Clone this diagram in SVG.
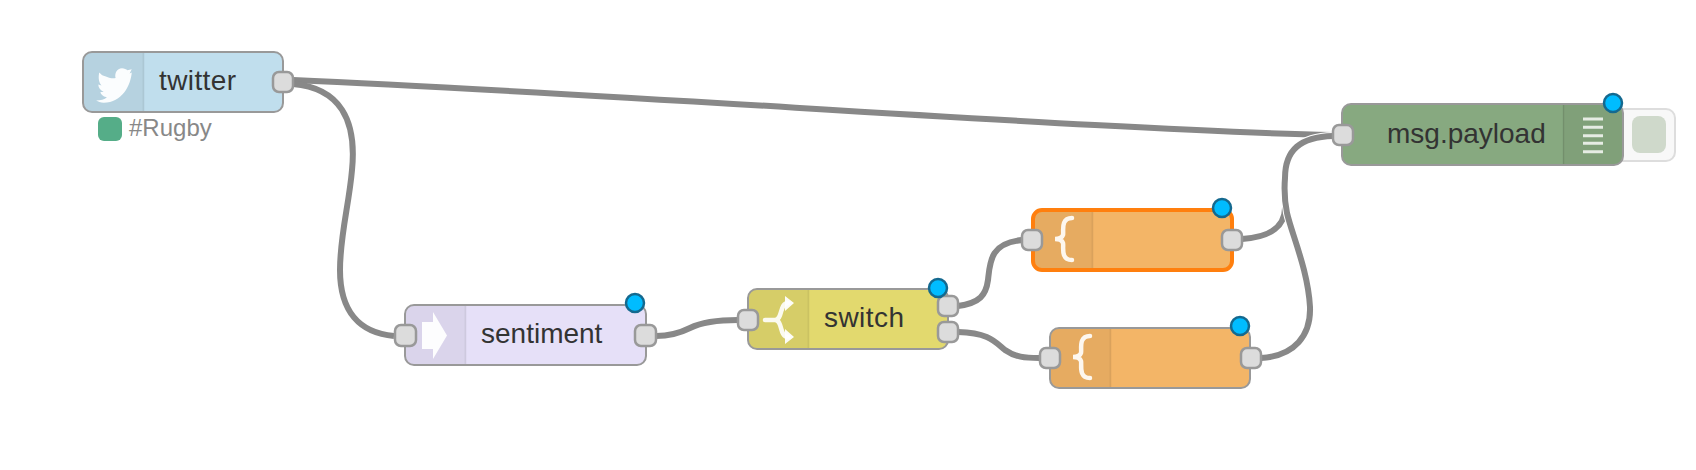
<svg xmlns="http://www.w3.org/2000/svg" width="1696" height="470" viewBox="0 0 1696 470">
<style>
.n{stroke:#999;stroke-width:2}
.ic{fill:#000;fill-opacity:.05}
.sep{stroke:#000;stroke-opacity:.1;stroke-width:1.500;fill:none}
.p{fill:#dcdcdc;stroke:#999;stroke-width:2.500}
.t{font-family:"Liberation Sans",Arial,sans-serif;font-size:28px;fill:#333}
.w{fill:none;stroke:#888;stroke-width:6}
.c{fill:none;stroke:#fff;stroke-width:8}
.d{fill:#00bcff;stroke:#14698f;stroke-width:2.500}
.g{fill:#fff;fill-opacity:.95}
.b{fill:none;stroke:#fff;stroke-opacity:.9;stroke-width:4.500;stroke-linecap:round}
</style>
<g id="connectors">
<path class="w" d="M293 80C640 95 1100 130 1333 135"/>
<path class="w" d="M293 84C340 88 357 120 352 170C349 205 340 235 340 270C340 312 360 333 394 336"/>
<path class="w" d="M656 336C670 336 680 333 690 328C700 323 715 320 738 320"/>
<path class="w" d="M958 306C980 303 986 295 988 280C990 262 990 243 1022 240"/>
<path class="w" d="M958 332C990 333 995 342 1005 350C1015 357 1025 358 1039 358"/>
<path class="w" d="M1242 239C1272 237 1285 225 1285 208C1285 195 1285 185 1285 178C1285 150 1300 137 1333 136"/>
<path class="c" d="M1261 358C1295 356 1311 335 1310 307C1308 270 1292 235 1287 213C1285 203 1284 190 1285 178C1285 150 1300 137 1333 136"/>
<path class="w" d="M1261 358C1295 356 1311 335 1310 307C1308 270 1292 235 1287 213C1285 203 1284 190 1285 178C1285 150 1300 137 1333 136"/>
</g>
<g id="twitter">
<rect class="n" x="83" y="52" width="200" height="60" rx="9" fill="#c0deed"/>
<path class="ic" d="M92 53H143V111H92A8 8 0 0 1 84 103V61A8 8 0 0 1 92 53Z"/>
<path class="sep" d="M143.500 53V111"/>
<path class="g" transform="matrix(1.08 0 0 1.08 0 -2)" d="M96 72C101 74 105 75 107 74C106 70 108 65 113 65C115 65 117 66 118 67L122 66L120 70L122 69C121 81 113 97 96 97C93 97 91 96 89 95C93 95 97 94 99 92C95 91 93 89 93 87L96 87C93 85 91 83 91 80L94 81C91 78 91 72 92 69C94 71 95 72 96 72Z"/>
<text class="t" x="159" y="90" textLength="77">twitter</text>
<rect class="p" x="273" y="72" width="20" height="20" rx="6"/>
<rect x="98" y="117" width="24" height="24" rx="6" fill="#55ad88"/>
<text x="129" y="136" font-family="Liberation Sans,Arial,sans-serif" font-size="24" fill="#888">#Rugby</text>
</g>
<g id="sentiment">
<rect class="n" x="405" y="305" width="241" height="60" rx="9" fill="#e6e0f8"/>
<path class="ic" d="M414 306H465V364H414A8 8 0 0 1 406 356V314A8 8 0 0 1 414 306Z"/>
<path class="sep" d="M465.500 306V364"/>
<path class="g" d="M422 322H433V312L447 335.500L433 359V349H422Z"/>
<text class="t" x="481" y="343">sentiment</text>
<rect class="p" x="395" y="325" width="21" height="21" rx="6"/>
<rect class="p" x="635" y="325" width="21" height="21" rx="6"/>
<circle class="d" cx="635" cy="303" r="9"/>
</g>
<g id="switch">
<rect class="n" x="748" y="289" width="200" height="60" rx="9" fill="#e2d96e"/>
<path class="ic" d="M757 290H808V348H757A8 8 0 0 1 749 340V298A8 8 0 0 1 757 290Z"/>
<path class="sep" d="M808.500 290V348"/>
<path class="b" d="M765 320H775C783 320 779 303 788 303M775 320C783 320 779 337 788 337"/>
<path class="g" d="M785 296L794 303L785 311ZM785 329L794 337L785 344Z"/>
<text class="t" x="824" y="327" textLength="80">switch</text>
<rect class="p" x="738" y="310" width="20" height="20" rx="6"/>
<rect class="p" x="938" y="296" width="20" height="20" rx="6"/>
<rect class="p" x="938" y="322" width="20" height="20" rx="6"/>
<circle class="d" cx="938" cy="288" r="9"/>
</g>
<g id="function1">
<rect x="1033" y="210" width="199" height="60" rx="9" fill="#f3b567" stroke="#ff7f0e" stroke-width="4"/>
<path class="ic" d="M1042 212H1092V268H1042A7 7 0 0 1 1035 261V219A7 7 0 0 1 1042 212Z"/>
<path class="sep" d="M1092.500 212V268"/>
<path class="b" d="M1072 218C1060 218 1064 232 1063 235C1062 238 1058 239 1055 239C1058 239 1062 240 1063 243C1064 246 1060 260 1072 260"/>
<rect class="p" x="1022" y="230" width="20" height="20" rx="6"/>
<rect class="p" x="1222" y="230" width="20" height="20" rx="6"/>
<circle class="d" cx="1222" cy="208" r="9"/>
</g>
<g id="function2">
<rect class="n" x="1050" y="328" width="200" height="60" rx="9" fill="#f3b567"/>
<path class="ic" d="M1059 329H1110V387H1059A8 8 0 0 1 1051 379V337A8 8 0 0 1 1059 329Z"/>
<path class="sep" d="M1110.500 329V387"/>
<path class="b" d="M1090 336C1078 336 1082 350 1081 353C1080 356 1076 357 1073 357C1076 357 1080 358 1081 361C1082 364 1078 378 1090 378"/>
<rect class="p" x="1040" y="348" width="20" height="20" rx="6"/>
<rect class="p" x="1241" y="348" width="20" height="20" rx="6"/>
<circle class="d" cx="1240" cy="326" r="9"/>
</g>
<g id="debug">
<rect x="1610" y="109" width="65" height="52" rx="9" fill="#f8f8f8" stroke="#ddd" stroke-width="2"/>
<rect x="1632" y="116" width="34" height="37" rx="8" fill="#cfd9cb"/>
<rect class="n" x="1342" y="104" width="281" height="61" rx="9" fill="#87a980"/>
<path class="ic" d="M1563 105H1614A8 8 0 0 1 1622 113V156A8 8 0 0 1 1614 164H1563Z"/>
<path class="sep" d="M1563.500 105V164"/>
<path d="M1583 119H1603M1583 127.300H1603M1583 135.700H1603M1583 143.300H1603M1583 151.700H1603" stroke="#fff" stroke-opacity=".8" stroke-width="3" fill="none"/>
<text class="t" x="1387" y="143">msg.payload</text>
<rect class="p" x="1333" y="125" width="20" height="20" rx="6"/>
<circle class="d" cx="1613" cy="103" r="9"/>
</g>
</svg>
